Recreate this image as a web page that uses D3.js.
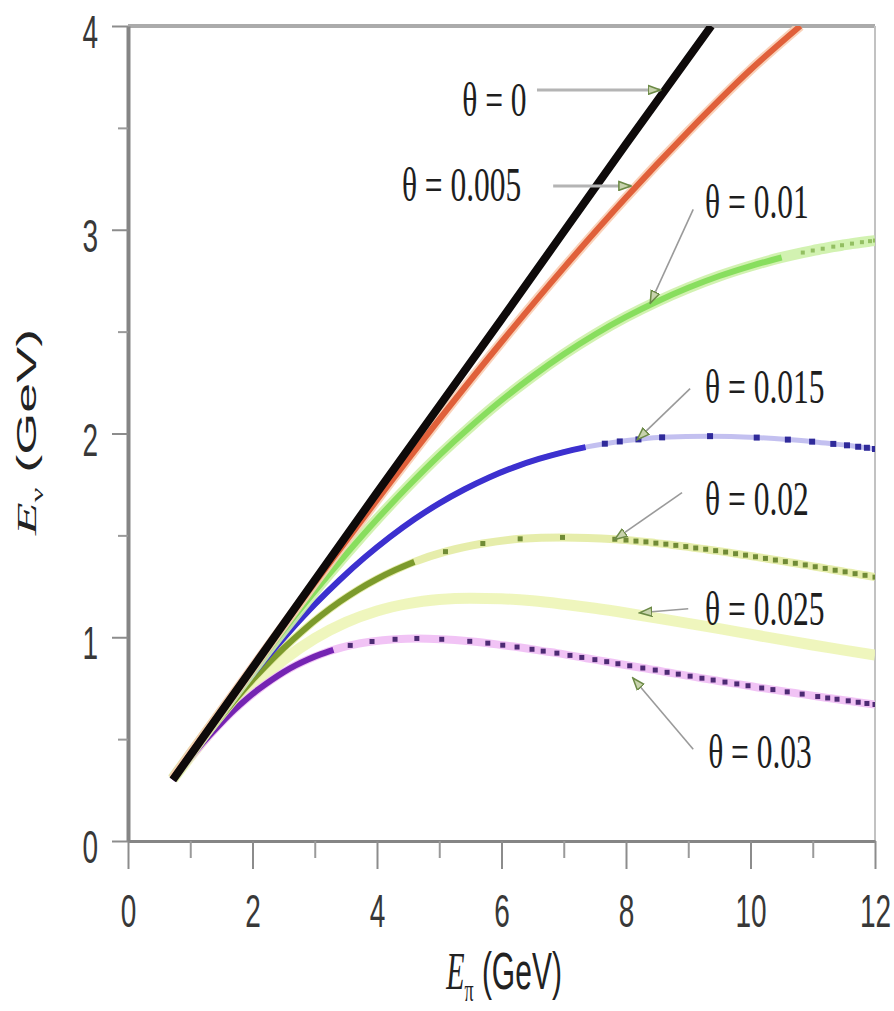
<!DOCTYPE html>
<html>
<head>
<meta charset="utf-8">
<script src="https://cdn.jsdelivr.net/npm/d3@7"></script>
<style>
  body { margin: 0; background: #fff; }
  svg { display: block; }
</style>
</head>
<body>
<svg id="chart" width="894" height="1011"></svg>
<script>
// Neutrino energy E_nu versus pion energy E_pi for several off-axis angles theta (rad)

const angleLabels = ["θ = 0", "θ = 0.005", "θ = 0.01", "θ = 0.015", "θ = 0.02", "θ = 0.025", "θ = 0.03"];
const xTicks = [0, 2, 4, 6, 8, 10, 12];
const xMinorTicks = [1, 3, 5, 7, 9, 11];
const yTicks = [0, 1, 2, 3, 4];
const yMinorTicks = [0.5, 1.5, 2.5, 3.5];

// theta = 0
const ePi0 = [0.72, 2, 4, 6, 8, 9.37];
const eNu0 = [0.30, 0.85, 1.71, 2.56, 3.42, 4.0];

// theta = 0.005
const ePi005 = [0.72, 1, 2, 3, 4, 5, 6, 7, 8, 9, 10, 10.8];
const eNu005 = [0.307, 0.427, 0.850, 1.267, 1.674, 2.069, 2.449, 2.813, 3.158, 3.482, 3.785, 4.0];

// theta = 0.01
const ePi01 = [0.72, 1, 1.5, 2, 2.5, 3, 3.5, 4, 4.5, 5, 5.5, 6, 6.5, 7, 7.5, 8, 8.5, 9, 9.5, 10,
               10.5, 10.84, 11.0, 11.16, 11.33, 11.47, 11.63, 11.79, 11.92, 12.0];
const eNu01 = [0.307, 0.425, 0.633, 0.837, 1.035, 1.225, 1.406, 1.579, 1.741, 1.893, 2.033, 2.163, 2.281, 2.389, 2.486, 2.572, 2.648, 2.715, 2.773, 2.822,
               2.864, 2.888, 2.898, 2.907, 2.917, 2.924, 2.932, 2.939, 2.944, 2.947];

// theta = 0.015
const ePi015 = [0.72, 1, 1.4, 1.8, 2.2, 2.6, 3.0, 3.4, 3.8, 4.2, 4.6, 5.0, 5.4, 5.8, 6.2, 6.6, 7.0, 7.35, 7.66, 7.9,
                8.2, 8.58, 9.35, 10.1, 10.6, 10.99, 11.33, 11.55, 11.73, 11.87, 12.0];
const eNu015 = [0.306, 0.422, 0.585, 0.741, 0.890, 1.030, 1.161, 1.281, 1.391, 1.490, 1.579, 1.657, 1.725, 1.784, 1.834, 1.875, 1.909, 1.933, 1.950, 1.961,
                1.971, 1.981, 1.987, 1.980, 1.970, 1.960, 1.949, 1.942, 1.935, 1.930, 1.924];

// theta = 0.02
const ePi02 = [0.72, 1, 1.3, 1.6, 1.9, 2.2, 2.5, 2.8, 3.1, 3.4, 3.7, 4.0, 4.3, 4.6, 5.1, 5.7, 6.3, 6.98, 7.82, 8.0,
               8.16, 8.32, 8.48, 8.64, 8.8, 8.96, 9.12, 9.28, 9.44, 9.6, 9.76, 9.92, 10.08, 10.24, 10.4, 10.56, 10.72, 10.88, 11.04, 11.2,
               11.36, 11.52, 11.68, 11.84, 12.0];
const eNu02 = [0.304, 0.419, 0.537, 0.649, 0.756, 0.855, 0.946, 1.030, 1.106, 1.174, 1.234, 1.286, 1.331, 1.370, 1.420, 1.460, 1.483, 1.490, 1.481, 1.477,
               1.472, 1.468, 1.462, 1.457, 1.451, 1.445, 1.438, 1.432, 1.425, 1.418, 1.410, 1.403, 1.395, 1.387, 1.379, 1.371, 1.363, 1.355, 1.346, 1.338,
               1.329, 1.321, 1.312, 1.304, 1.295];

// theta = 0.025
const ePi025 = [0.72, 1, 1.5, 2, 2.5, 3, 3.5, 4, 4.5, 5, 5.5, 6, 6.5, 7, 7.5, 8, 8.5, 9, 9.5, 10, 10.5, 11, 11.5, 12];
const eNu025 = [0.303, 0.414, 0.598, 0.757, 0.889, 0.994, 1.073, 1.129, 1.165, 1.185, 1.192, 1.189, 1.179, 1.162, 1.142, 1.119, 1.094, 1.068, 1.042, 1.015, 0.988, 0.962, 0.937, 0.912];

// theta = 0.03
const ePi03 = [0.72, 0.9, 1.1, 1.3, 1.5, 1.7, 1.9, 2.1, 2.3, 2.5, 2.7, 2.9, 3.1, 3.3, 3.57, 3.92, 4.29, 4.64, 5.04, 5.49,
               5.78, 6.02, 6.25, 6.49, 6.67, 6.89, 7.10, 7.29, 7.50, 7.69, 7.87, 8.06, 8.27, 8.47, 8.66, 8.84, 9.03, 9.22, 9.40, 9.59,
               9.78, 9.96, 10.18, 10.36, 10.59, 10.83, 11.08, 11.24, 11.39, 11.57, 11.73, 11.87, 12.0];
const eNu03 = [0.300, 0.371, 0.445, 0.515, 0.580, 0.641, 0.696, 0.745, 0.789, 0.829, 0.863, 0.892, 0.917, 0.938, 0.960, 0.979, 0.990, 0.994, 0.990, 0.980,
               0.971, 0.961, 0.952, 0.941, 0.932, 0.922, 0.911, 0.901, 0.890, 0.880, 0.870, 0.860, 0.849, 0.839, 0.828, 0.819, 0.809, 0.799, 0.790, 0.780,
               0.771, 0.762, 0.751, 0.743, 0.732, 0.721, 0.709, 0.702, 0.696, 0.688, 0.681, 0.675, 0.670];

const zip = (xs, ys) => xs.map((v, i) => [v, ys[i]]);

// Drawing styles, in paint order (widest angle at the back)
const series = [
  { label: angleLabels[5], pts: zip(ePi025, eNu025), band: "#edf5b6", bandW: 11, core: null,      coreW: 0, mark: null,      markS: 0, solidTo: 0 },
  { label: angleLabels[6], pts: zip(ePi03, eNu03),   band: "#f0bdf4", bandW: 8,  core: "#7424b2", coreW: 6, mark: "#4d2a74", markS: 5, solidTo: 3.4 },
  { label: angleLabels[4], pts: zip(ePi02, eNu02),   band: "#e3eba2", bandW: 8,  core: "#7c9a2c", coreW: 6, mark: "#708b36", markS: 5, solidTo: 4.7 },
  { label: angleLabels[3], pts: zip(ePi015, eNu015), band: "#bdb9ee", bandW: 5,  core: "#3c30cf", coreW: 6, mark: "#2f2a9a", markS: 6, solidTo: 7.4 },
  { label: angleLabels[2], pts: zip(ePi01, eNu01),   band: "#cdf1a8", bandW: 11, core: "#88de5e", coreW: 6, mark: "#93bf62", markS: 4, solidTo: 10.6 },
  { label: angleLabels[1], pts: zip(ePi005, eNu005), band: "#f8cdb2", bandW: 10, core: "#e0603a", coreW: 6, mark: null,      markS: 0, solidTo: 99 },
  { label: angleLabels[0], pts: zip(ePi0, eNu0),     band: null,      bandW: 0,  core: "#0e0a0a", coreW: 8, mark: null,      markS: 0, solidTo: 99 }
];

// Label placement and leader lines, in data units
const annotations = [
  { label: angleLabels[0], at: [5.37, 3.64], from: [6.57, 3.686], to: [8.55, 3.686], heavy: true },
  { label: angleLabels[1], at: [4.40, 3.22], from: [6.83, 3.215], to: [8.08, 3.215], heavy: true },
  { label: angleLabels[2], at: [9.27, 3.14], from: [9.08, 3.10], to: [8.39, 2.64] },
  { label: angleLabels[3], at: [9.27, 2.23], from: [9.03, 2.22], to: [8.18, 1.97] },
  { label: angleLabels[4], at: [9.27, 1.68], from: [8.90, 1.71], to: [7.82, 1.48] },
  { label: angleLabels[5], at: [9.27, 1.14], from: [9.00, 1.14], to: [8.22, 1.12] },
  { label: angleLabels[6], at: [9.32, 0.44], from: [9.08, 0.45], to: [8.11, 0.80] }
];

const W = 894, H = 1011;
const svg = d3.select("#chart");
const x = d3.scaleLinear().domain([0, 12]).range([128, 875]);
const y = d3.scaleLinear().domain([0, 4]).range([841, 26]);

svg.append("rect").attr("width", W).attr("height", H).attr("fill", "#fff");

const defs = svg.append("defs");
defs.append("clipPath").attr("id", "plot-clip")
  .append("rect").attr("x", x(0)).attr("y", y(4)).attr("width", x(12) - x(0)).attr("height", y(0) - y(4));
defs.append("marker").attr("id", "tip")
  .attr("viewBox", "0 -5 12 10").attr("refX", 11).attr("refY", 0)
  .attr("markerWidth", 14).attr("markerHeight", 11).attr("markerUnits", "userSpaceOnUse")
  .attr("orient", "auto")
  .append("path").attr("d", "M0,-4L11,0L0,4Z")
  .attr("fill", "#c8d3ad").attr("stroke", "#6c8a46").attr("stroke-width", 1.4);

// Frame: top and right edges
svg.append("line").attr("x1", x(0)).attr("x2", x(12)).attr("y1", y(4)).attr("y2", y(4))
  .attr("stroke", "#ababab").attr("stroke-width", 4);
svg.append("line").attr("x1", x(12)).attr("x2", x(12)).attr("y1", y(4)).attr("y2", y(0))
  .attr("stroke", "#c2c2c2").attr("stroke-width", 2);

// Curves
const line = d3.line().x(d => x(d[0])).y(d => y(d[1])).curve(d3.curveMonotoneX);
const plot = svg.append("g").attr("clip-path", "url(#plot-clip)");

series.forEach(s => {
  const g = plot.append("g").attr("class", "series");
  if (s.band) {
    g.append("path").attr("d", line(s.pts)).attr("fill", "none")
      .attr("stroke", s.band).attr("stroke-width", s.bandW).attr("stroke-opacity", 0.9)
      .attr("stroke-linejoin", "round");
  }
  if (s.core) {
    const solid = s.pts.filter(d => d[0] <= s.solidTo);
    g.append("path").attr("d", line(solid)).attr("fill", "none")
      .attr("stroke", s.core).attr("stroke-width", s.coreW).attr("stroke-linejoin", "round");
  }
  if (s.mark) {
    g.selectAll("rect").data(s.pts.filter(d => d[0] > s.solidTo)).join("rect")
      .attr("x", d => x(d[0]) - s.markS / 2).attr("y", d => y(d[1]) - s.markS / 2)
      .attr("width", s.markS).attr("height", s.markS).attr("fill", s.mark);
  }
});

// Axes
const tickFont = "'Liberation Sans', Arial, sans-serif";
const gx = svg.append("g").attr("transform", `translate(0,${y(0)})`)
  .call(d3.axisBottom(x).tickValues(xTicks).tickSize(28).tickSizeOuter(0).tickFormat(d3.format("d")));
gx.attr("font-family", tickFont).attr("font-size", 28);
gx.select(".domain").attr("stroke", "#858585").attr("stroke-width", 3);
gx.selectAll(".tick line").attr("stroke", "#8c8c8c").attr("stroke-width", 2);
gx.selectAll(".tick text").attr("fill", "#383838")
  .attr("y", 69 / 1.65).attr("dy", "0.36em").attr("transform", "scale(1,1.65)");

const gxm = svg.append("g").attr("transform", `translate(0,${y(0)})`)
  .call(d3.axisBottom(x).tickValues(xMinorTicks).tickSize(17).tickFormat(""));
gxm.select(".domain").remove();
gxm.selectAll(".tick line").attr("stroke", "#9a9a9a").attr("stroke-width", 2);

const gy = svg.append("g").attr("transform", `translate(${x(0)},0)`)
  .call(d3.axisLeft(y).tickValues(yTicks).tickSize(16).tickSizeOuter(0).tickFormat(d3.format("d")));
gy.attr("font-family", tickFont).attr("font-size", 28);
gy.select(".domain").attr("stroke", "#858585").attr("stroke-width", 4);
gy.selectAll(".tick line").attr("stroke", "#8c8c8c").attr("stroke-width", 2);
gy.selectAll(".tick text").attr("fill", "#383838")
  .attr("x", -30).attr("y", 3).attr("dy", "0.36em").attr("transform", "scale(1,1.65)");

const gym = svg.append("g").attr("transform", `translate(${x(0)},0)`)
  .call(d3.axisLeft(y).tickValues(yMinorTicks).tickSize(10).tickFormat(""));
gym.select(".domain").remove();
gym.selectAll(".tick line").attr("stroke", "#9a9a9a").attr("stroke-width", 2);

// Axis titles
function axisTitle(g, sub, size) {
  const t = g.append("text").attr("text-anchor", "middle")
    .attr("font-family", tickFont).attr("font-size", size).attr("fill", "#222");
  t.append("tspan").attr("font-family", "'Liberation Serif', serif").attr("font-style", "italic").text("E");
  t.append("tspan").attr("font-family", "'Liberation Serif', serif").attr("font-size", size * 0.6).attr("dy", 7).text(sub);
  t.append("tspan").attr("dy", -7).text(" (GeV)");
}
axisTitle(svg.append("g").attr("transform", "translate(504,989) scale(1,1.75)"), "π", 30);
axisTitle(svg.append("g").attr("transform", "translate(36,432) rotate(-90) scale(2,1)"), "ν", 27);

// Leader lines and angle labels
const ann = svg.append("g");
annotations.forEach(a => {
  ann.append("line")
    .attr("x1", x(a.from[0])).attr("y1", y(a.from[1]))
    .attr("x2", x(a.to[0])).attr("y2", y(a.to[1]))
    .attr("stroke", a.heavy ? "#b4b4b4" : "#9a9a9a")
    .attr("stroke-width", a.heavy ? 3 : 1.6)
    .attr("marker-end", "url(#tip)");
  ann.append("g").attr("transform", `translate(${x(a.at[0])},${y(a.at[1])}) scale(1.05,1.6)`)
    .append("text").attr("dy", "0.34em")
    .attr("font-family", "'Liberation Serif', 'Times New Roman', serif").attr("font-size", 30)
    .attr("fill", "#1e1e1e").text(a.label);
});
</script>
</body>
</html>
